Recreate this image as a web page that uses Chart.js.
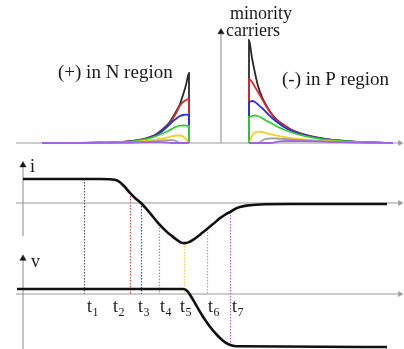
<!DOCTYPE html>
<html>
<head>
<meta charset="utf-8">
<script src="https://cdn.jsdelivr.net/npm/chart.js@4.4.1/dist/chart.umd.min.js"></script>
<style>
  html, body { margin: 0; padding: 0; background: #fff; }
  canvas { display: block; }
</style>
</head>
<body>
<canvas id="recovery" width="404" height="349"></canvas>
<script>
// Minority carrier profiles, one per instant t1..t7
// N side: distance from the vertical axis (junction edge at -3.2)
const nPos = [-17.9, -14.1, -12.1, -10.1, -8.6, -7.6, -6.6, -5.8, -5.2, -4.8, -4.4, -4.1, -3.8, -3.5, -3.2];
const profileN = [
  [0, 0.015, 0.03, 0.09, 0.24, 0.44, 0.8, 1.4, 2.0, 2.6, 3.3, 3.9, 4.8, 5.8, 7.0],
  [0, 0.015, 0.03, 0.09, 0.23, 0.42, 0.76, 1.3, 1.9, 2.45, 3.15, 3.75, 4.1, 4.3, 4.4],
  [0, 0.01, 0.03, 0.08, 0.22, 0.4, 0.74, 1.25, 1.8, 2.2, 2.5, 2.7, 2.8, 2.83, 2.8],
  [0, 0.01, 0.03, 0.07, 0.19, 0.35, 0.65, 0.98, 1.25, 1.48, 1.65, 1.73, 1.75, 1.73, 1.7],
  [0, 0.005, 0.02, 0.05, 0.12, 0.2, 0.32, 0.46, 0.58, 0.68, 0.75, 0.75, 0.65, 0.4, 0],
  [0, 0, 0.01, 0.03, 0.07, 0.12, 0.19, 0.26, 0.29, 0.28, 0.15, 0, 0, 0, 0],
  [0, 0, 0.01, 0.03, 0.06, 0.08, 0.09, 0.08, 0.04, 0, 0, 0, 0, 0, 0]
];
// P side: junction edge at 2.8
const pPos = [2.8, 2.8, 3.1, 3.4, 3.7, 4.1, 4.5, 5.0, 5.6, 6.3, 7.1, 8.0, 9.3, 10.8, 12.8, 14.8, 17.2];
const profileP = [
  [0, 10.3, 8.5, 7.0, 5.7, 4.6, 3.8, 3.0, 2.3, 1.8, 1.3, 0.95, 0.6, 0.35, 0.17, 0.07, 0],
  [0, 6.4, 6.1, 5.6, 5.1, 4.4, 3.7, 2.95, 2.25, 1.75, 1.27, 0.93, 0.59, 0.34, 0.17, 0.07, 0],
  [0, 4.1, 4.2, 4.1, 3.85, 3.5, 3.1, 2.6, 2.1, 1.6, 1.2, 0.88, 0.57, 0.33, 0.16, 0.07, 0],
  [0, 2.6, 2.7, 2.75, 2.7, 2.5, 2.25, 2.0, 1.65, 1.35, 1.05, 0.78, 0.52, 0.31, 0.15, 0.06, 0],
  [0, 0, 0.7, 1.05, 1.13, 1.1, 1.0, 0.86, 0.73, 0.6, 0.48, 0.38, 0.27, 0.18, 0.09, 0.04, 0],
  [0, 0, 0, 0, 0, 0.25, 0.42, 0.47, 0.45, 0.4, 0.34, 0.28, 0.21, 0.14, 0.08, 0.03, 0],
  [0, 0, 0, 0, 0, 0, 0, 0, 0.12, 0.18, 0.2, 0.19, 0.16, 0.11, 0.06, 0.03, 0]
];
const profileColors = ['#2a2a2a', '#e02828', '#2233e0', '#30d030', '#f5d020', '#a0a0a0', '#a064e8'];

// Diode current during turn-off
const currentT = [0, 3.7, 7.7, 8.9, 9.5, 10.1, 10.7, 11.2, 11.8, 12.7, 13.5, 14.3, 14.9, 15.4, 15.8, 16.2, 16.6,
  17.0, 17.4, 17.9, 18.4, 19.0, 19.7, 20.3, 20.7, 21.2, 21.7, 22.5, 23.7, 26.7, 36.4];
const currentI = [1, 1, 1, 0.98, 0.92, 0.71, 0.42, 0.21, 0, -0.42, -0.83, -1.17, -1.38, -1.54, -1.65, -1.67, -1.63,
  -1.54, -1.42, -1.25, -1.08, -0.88, -0.63, -0.46, -0.38, -0.25, -0.17, -0.1, -0.06, -0.04, -0.04];

// Diode voltage
const voltageT = [-0.6, 14.5, 16.0, 16.4, 16.9, 17.4, 18.0, 18.7, 19.4, 20.0, 20.5, 21.0, 21.7, 36.4];
const voltageV = [0.5, 0.5, 0.5, 0.33, -0.4, -1.27, -2.27, -3.27, -4.1, -4.67, -5.0, -5.17, -5.23, -5.3];

// Instants t1..t7
const markTimes = [6.1, 10.7, 11.8, 13.6, 16.1, 18.4, 20.7];
const markCurrent = [1, 0.42, 0, -0.9, -1.67, -1.08, -0.38];
const markVoltage = [0, 0, 0, 0, 0, 0, -4.9];
const markNames = ['1', '2', '3', '4', '5', '6', '7'];
const markColors = ['#555555', '#e04a4a', '#3a4ae0', '#4ad44a', '#f0d040', '#aaaaaa', '#a060e0'];
const markLabelDx = [3, -17, -3, 1, -4, 1, 2];

const AXIS = '#9a9a9a';
const INK = '#1a1a1a';
const SERIF = '"Liberation Serif", "DejaVu Serif", serif';

const pts = (xs, ys) => xs.map((x, k) => ({ x, y: ys[k] }));

function axisLine(xs, ys, xAxisID, yAxisID, arrowRotation, arrowColor) {
  return {
    data: pts(xs, ys),
    xAxisID, yAxisID,
    borderColor: AXIS,
    borderWidth: 1.2,
    tension: 0,
    cubicInterpolationMode: 'default',
    pointStyle: 'triangle',
    pointRadius: [0, arrowColor === INK ? 3.6 : 3],
    pointRotation: arrowRotation,
    pointBackgroundColor: arrowColor,
    pointBorderColor: arrowColor,
    pointBorderWidth: 0.5,
    order: 100
  };
}

const datasets = [
  // axes
  axisLine([-20.5, 17.9], [0, 0], 'xd', 'yc', 90, AXIS),
  axisLine([0, 0], [0, 11.1], 'xd', 'yc', 0, INK),
  axisLine([-0.7, 37.7], [0, 0], 'x', 'yi', 90, AXIS),
  axisLine([0, 0], [-1.375, 1.58], 'x', 'yi', 0, INK),
  axisLine([-0.7, 37.7], [0, 0], 'x', 'yv', 90, AXIS),
  axisLine([0, 0], [-5.6, 3.55], 'x', 'yv', 0, INK)
];

profileColors.forEach((color, k) => {
  const junction = nPos[nPos.length - 1];
  datasets.push({
    data: pts(nPos, profileN[k]).concat([{ x: junction, y: 0 }]),
    xAxisID: 'xd', yAxisID: 'yc',
    borderColor: color, borderWidth: 1.8,
    order: 20 - k
  });
  datasets.push({
    data: pts(pPos, profileP[k]),
    xAxisID: 'xd', yAxisID: 'yc',
    borderColor: color, borderWidth: 1.8,
    order: 20 - k
  });
});

datasets.push({
  data: pts(currentT, currentI),
  xAxisID: 'x', yAxisID: 'yi',
  borderColor: '#111', borderWidth: 2.6,
  order: 1
});
datasets.push({
  data: pts(voltageT, voltageV),
  xAxisID: 'x', yAxisID: 'yv',
  borderColor: '#111', borderWidth: 2.6,
  order: 1
});

// dotted drop lines from the current trace down to the voltage panel
const markerPlugin = {
  id: 'timeMarkers',
  beforeDatasetsDraw(chart) {
    const { ctx, scales: { x, yi, yv } } = chart;
    ctx.save();
    ctx.lineWidth = 1.2;
    ctx.setLineDash([1.5, 1.5]);
    markTimes.forEach((t, k) => {
      const px = Math.round(x.getPixelForValue(t)) + 0.5;
      ctx.strokeStyle = markColors[k];
      ctx.beginPath();
      ctx.moveTo(px, yi.getPixelForValue(markCurrent[k]));
      ctx.lineTo(px, yv.getPixelForValue(markVoltage[k]));
      ctx.stroke();
    });
    ctx.restore();
  }
};

const textPlugin = {
  id: 'diagramText',
  afterDatasetsDraw(chart) {
    const { ctx, scales: { x, xd, yc, yi, yv } } = chart;
    ctx.save();
    ctx.fillStyle = INK;
    ctx.textAlign = 'left';
    ctx.textBaseline = 'alphabetic';
    ctx.font = '19px ' + SERIF;
    ctx.fillText('(+) in N region', xd.getPixelForValue(-16.3), yc.getPixelForValue(6.5));
    ctx.fillText('(-) in P region', xd.getPixelForValue(6.1), yc.getPixelForValue(5.8));
    ctx.font = '18px ' + SERIF;
    ctx.fillText('minority', xd.getPixelForValue(0.9), yc.getPixelForValue(12.4));
    ctx.fillText('carriers', xd.getPixelForValue(0.5), yc.getPixelForValue(10.7));
    ctx.fillText('i', x.getPixelForValue(0.7), yi.getPixelForValue(1.29));
    ctx.fillText('v', x.getPixelForValue(0.8), yv.getPixelForValue(2.7));

    const base = yv.getPixelForValue(-1.8);
    markTimes.forEach((t, k) => {
      const left = x.getPixelForValue(t) + markLabelDx[k];
      ctx.font = '18px ' + SERIF;
      ctx.fillText('t', left, base);
      const w = ctx.measureText('t').width;
      ctx.font = '12px ' + SERIF;
      ctx.fillText(markNames[k], left + w + 0.5, base + 4);
    });
    ctx.restore();
  }
};

new Chart(document.getElementById('recovery'), {
  type: 'line',
  data: { datasets },
  options: {
    responsive: false,
    animation: false,
    events: [],
    layout: { padding: 0, autoPadding: false },
    plugins: { legend: { display: false }, tooltip: { enabled: false } },
    elements: {
      point: { radius: 0 },
      line: { cubicInterpolationMode: 'monotone', fill: false }
    },
    scales: {
      x: { type: 'linear', axis: 'x', display: false, min: -2.3, max: 38.1 },
      xd: { type: 'linear', axis: 'x', display: false, min: -22.1, max: 18.3 },
      yc: { type: 'linear', axis: 'y', display: false, min: -20.6, max: 14.3 },
      yi: { type: 'linear', axis: 'y', display: false, min: -6.0833, max: 8.4583 },
      yv: { type: 'linear', axis: 'y', display: false, min: -5.5, max: 29.4 }
    }
  },
  plugins: [markerPlugin, textPlugin]
});
</script>
</body>
</html>
